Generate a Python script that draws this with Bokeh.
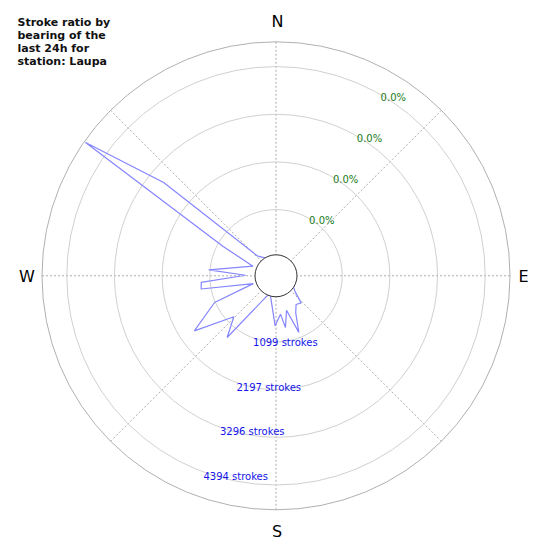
import numpy as np
from bokeh.plotting import figure
from bokeh.models import Range1d
from bokeh.core.properties import value
from bokeh.embed import file_html
from bokeh.resources import INLINE

# ---- data ----
bearings = [0, 30, 60, 90, 115, 123, 130, 137, 145, 152, 158, 163, 169.6, 173.3,
            181, 194, 197, 204, 218.4, 225.8, 236, 246.5, 251, 260, 265, 271,
            275, 292.7, 299, 305, 309.7, 316.8, 326, 335]
strokes = [0, 0, 0, 0, 0, 58, 150, 426, 380, 541, 979, 403, 783, 463,
           726, 81, 12, 81, 1387, 928, 1843, 1117, 127, 1325, 1302, 276,
           1129, 150, 956, 4931, 2938, 205, 81, 0]
ring_counts = [1099, 2197, 3296, 4394]
ring_labels = ["1099 strokes", "2197 strokes", "3296 strokes", "4394 strokes"]
pct_labels = ["0.0%", "0.0%", "0.0%", "0.0%"]
cardinals = ["N", "E", "S", "W"]
title_lines = ["Stroke ratio by", "bearing of the", "last 24h for", "station: Laupa"]

# ---- radial scale ----
R0 = 18.5            # radius of zero strokes
STEP = 47.7          # pixels per 1099 strokes
R_OUT = 234.0
R_HOLE = 21.0

def rad(c):
    return R0 + np.asarray(c, dtype=float) * STEP / ring_counts[0]

def polar(b, r):
    t = np.deg2rad(np.asarray(b, dtype=float))
    return np.asarray(r) * np.sin(t), np.asarray(r) * np.cos(t)

p = figure(width=542, height=542, output_backend="svg", toolbar_location=None,
           x_range=Range1d(-275.5, 266.5), y_range=Range1d(-266.7, 275.3),
           x_axis_location=None, y_axis_location=None, min_border=0)
p.grid.visible = False
p.outline_line_color = None
p.background_fill_color = "white"

# radial dotted lines
for b in range(0, 360, 45):
    x, y = polar([b, b], [0, R_OUT])
    p.line(x, y, line_color="#aaaaaa", line_dash="2 2", line_width=1)

# rings
rr = rad(ring_counts)
p.circle(x=[0]*4, y=[0]*4, radius=rr, fill_color=None, line_color="#d0d0d0", line_width=1)
p.circle(x=[0], y=[0], radius=[R_OUT], fill_color=None, line_color="#b0b0b0", line_width=1)

# stroke polygon
bx, by = polar(bearings + [bearings[0]], rad(strokes + [strokes[0]]))
p.line(bx, by, line_color="#8585ff", line_width=1.2)

# centre hole
p.circle(x=[0], y=[0], radius=[R_HOLE], fill_color="white", line_color="#333333", line_width=1)

# ring labels
lx, ly = polar([200.3]*4, rr)
p.text(lx, ly, text=ring_labels, text_align="left", text_baseline="middle", y_offset=4.5,
       text_color="#1515e8", text_font=value("DejaVu Sans"), text_font_size="10px")
px_, py_ = polar([30]*4, rr)
p.text(px_, py_, text=pct_labels, text_align="left", text_baseline="middle", y_offset=2.5,
       text_color="#1a7a1a", text_font=value("DejaVu Sans"), text_font_size="10px")

# cardinal labels
cx = [1.5, 247.5, 1.0, -249.0]
cy = [254.3, -1.0, -255.4, -1.0]
p.text(cx, cy, text=cardinals, text_align="center", text_baseline="middle",
       text_color="black", text_font=value("DejaVu Sans"), text_font_size="16px")

# title
tx = [-258.5]*4
ty = [253.6, 240.6, 227.6, 214.6]
p.text(tx, ty, text=title_lines, text_align="left", text_baseline="middle",
       text_color="#111111", text_font=value("DejaVu Sans"), text_font_size="11px",
       text_font_style="bold")

open("out.html", "w").write(file_html(p, INLINE))
